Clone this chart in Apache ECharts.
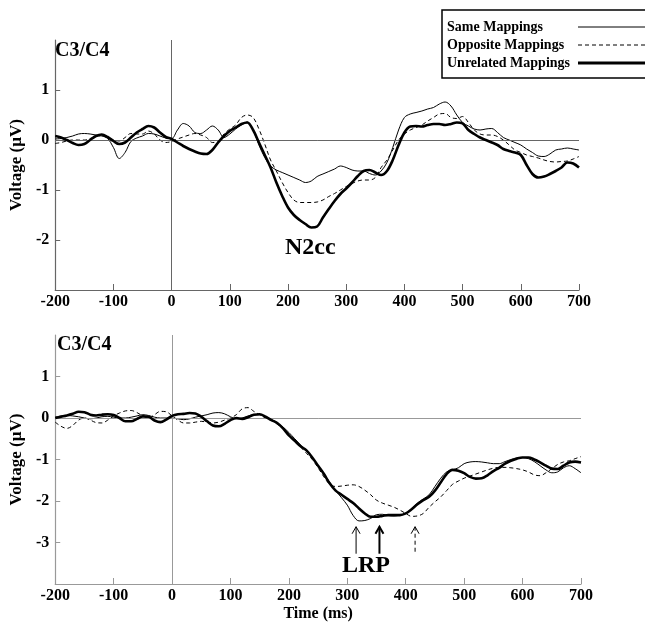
<!DOCTYPE html>
<html><head><meta charset="utf-8">
<script src="https://cdn.jsdelivr.net/npm/echarts@6/dist/echarts.min.js"></script>
<style>html,body{margin:0;padding:0;background:#fff;}#c{width:645px;height:623px;}</style>
</head><body><div id="c"></div>
<script>
// ---- data ----
const timeMs = [-200,-190,-180,-170,-160,-150,-140,-130,-120,-110,
  -100,-90,-80,-70,-60,-50,-40,-30,-20,-10,
  0,10,20,30,40,50,60,70,80,90,
  100,110,120,130,140,150,160,170,180,190,
  200,210,220,230,240,250,260,270,280,290,
  300,310,320,330,340,350,360,370,380,390,
  400,410,420,430,440,450,460,470,480,490,
  500,510,520,530,540,550,560,570,580,590,
  600,610,620,630,640,650,660,670,680,690,700];

const seriesNames = ['Same Mappings','Opposite Mappings','Unrelated Mappings'];

// Top panel (N2cc)
const topSame = [0.02,0.03,0.05,0.08,0.12,0.13,0.12,0.10,0.08,0.03,
  -0.15,-0.37,-0.25,-0.03,0.04,0.08,0.13,0.12,0.08,0.04,
  0.03,0.20,0.33,0.28,0.15,0.13,0.20,0.28,0.20,0.05,
  0.12,0.22,0.30,0.36,0.20,-0.10,-0.35,-0.52,-0.60,-0.65,
  -0.70,-0.75,-0.80,-0.85,-0.82,-0.73,-0.68,-0.63,-0.58,-0.52,
  -0.55,-0.60,-0.62,-0.62,-0.67,-0.70,-0.62,-0.45,-0.15,0.20,
  0.45,0.52,0.55,0.58,0.62,0.65,0.72,0.76,0.68,0.50,
  0.35,0.28,0.22,0.20,0.22,0.23,0.15,0.05,0.00,-0.05,
  -0.10,-0.18,-0.25,-0.32,-0.33,-0.28,-0.20,-0.18,-0.16,-0.18,-0.20];
const topOpp = [-0.07,-0.05,-0.02,0.00,0.00,0.00,0.03,0.07,0.08,0.05,
  0.00,-0.02,0.05,0.13,0.12,0.12,0.18,0.12,0.00,-0.05,
  -0.03,0.02,0.06,0.10,0.13,0.10,0.05,-0.05,-0.03,0.12,
  0.22,0.30,0.45,0.50,0.45,0.22,-0.08,-0.40,-0.62,-0.85,
  -1.05,-1.20,-1.25,-1.25,-1.25,-1.24,-1.20,-1.13,-1.07,-1.00,
  -0.93,-0.87,-0.82,-0.80,-0.80,-0.75,-0.55,-0.40,-0.20,0.00,
  0.12,0.20,0.25,0.30,0.38,0.45,0.52,0.53,0.45,0.43,
  0.47,0.35,0.20,0.12,0.10,0.10,0.07,0.00,-0.10,-0.20,
  -0.25,-0.30,-0.33,-0.36,-0.40,-0.43,-0.44,-0.43,-0.42,-0.38,-0.33];
const topUnr = [0.08,0.05,0.00,-0.06,-0.10,-0.08,0.00,0.08,0.11,0.06,
  -0.02,-0.08,-0.05,0.05,0.15,0.22,0.28,0.25,0.15,0.06,
  0.02,-0.05,-0.12,-0.18,-0.23,-0.27,-0.28,-0.20,-0.05,0.08,
  0.18,0.25,0.32,0.35,0.20,-0.05,-0.30,-0.55,-0.85,-1.12,
  -1.35,-1.50,-1.60,-1.68,-1.75,-1.73,-1.55,-1.38,-1.22,-1.08,
  -0.97,-0.85,-0.72,-0.62,-0.60,-0.65,-0.70,-0.62,-0.40,-0.10,
  0.15,0.27,0.28,0.27,0.30,0.32,0.32,0.30,0.32,0.35,
  0.33,0.20,0.12,0.05,0.00,-0.05,-0.10,-0.18,-0.22,-0.25,
  -0.30,-0.50,-0.68,-0.75,-0.73,-0.68,-0.62,-0.55,-0.45,-0.47,-0.55];

// Bottom panel (LRP)
const botSame = [0.02,0.05,0.06,0.05,0.03,0.00,-0.02,0.00,0.03,0.04,
  0.02,0.00,0.00,0.02,0.05,0.08,0.06,0.02,0.00,0.00,
  0.00,-0.02,-0.04,-0.02,0.02,0.05,0.08,0.12,0.13,0.10,
  0.03,-0.02,0.00,0.05,0.08,0.08,0.03,-0.03,-0.12,-0.22,
  -0.35,-0.50,-0.65,-0.80,-0.95,-1.15,-1.35,-1.55,-1.75,-1.92,
  -2.10,-2.35,-2.48,-2.47,-2.42,-2.33,-2.32,-2.35,-2.36,-2.34,
  -2.30,-2.18,-2.05,-1.95,-1.85,-1.65,-1.45,-1.30,-1.25,-1.20,
  -1.10,-1.06,-1.05,-1.06,-1.08,-1.10,-1.10,-1.05,-1.00,-0.96,
  -0.95,-0.98,-1.05,-1.15,-1.25,-1.32,-1.30,-1.20,-1.15,-1.22,-1.32];
const botOpp = [-0.10,-0.20,-0.25,-0.18,-0.05,0.00,-0.05,-0.11,-0.12,-0.05,
  0.05,0.12,0.17,0.18,0.13,0.05,0.00,0.08,0.16,0.15,
  0.05,-0.05,-0.12,-0.12,-0.10,-0.08,-0.10,-0.12,-0.10,-0.05,
  0.00,0.08,0.22,0.25,0.16,0.08,0.00,-0.05,-0.15,-0.25,
  -0.40,-0.55,-0.70,-0.85,-1.00,-1.20,-1.42,-1.60,-1.65,-1.64,
  -1.62,-1.61,-1.65,-1.74,-1.85,-1.98,-2.05,-2.10,-2.15,-2.22,
  -2.30,-2.37,-2.36,-2.30,-2.15,-2.02,-1.90,-1.75,-1.60,-1.52,
  -1.45,-1.40,-1.35,-1.30,-1.25,-1.21,-1.19,-1.19,-1.20,-1.22,
  -1.25,-1.30,-1.37,-1.39,-1.32,-1.22,-1.12,-1.06,-1.03,-0.98,-0.93];
const botUnr = [0.00,0.03,0.06,0.10,0.15,0.14,0.08,0.06,0.08,0.09,
  0.07,0.00,-0.08,-0.08,-0.02,0.04,0.03,-0.06,-0.10,-0.04,
  0.05,0.09,0.10,0.12,0.11,0.03,-0.08,-0.18,-0.20,-0.14,
  -0.05,0.00,-0.02,0.02,0.08,0.09,0.03,-0.05,-0.12,-0.25,
  -0.42,-0.55,-0.68,-0.78,-0.95,-1.15,-1.35,-1.58,-1.75,-1.85,
  -1.95,-2.05,-2.18,-2.30,-2.38,-2.38,-2.36,-2.34,-2.34,-2.34,
  -2.30,-2.20,-2.08,-1.98,-1.90,-1.75,-1.55,-1.35,-1.25,-1.27,
  -1.33,-1.42,-1.46,-1.45,-1.38,-1.28,-1.20,-1.10,-1.03,-0.98,
  -0.95,-0.95,-1.00,-1.07,-1.15,-1.22,-1.23,-1.15,-1.07,-1.05,-1.07];

const panelLabel = 'C3/C4';
const topPeakLabel = 'N2cc';
const botPeakLabel = 'LRP';
const lrpArrowTimes = [315, 355, 416];   // Same, Unrelated, Opposite onset markers (ms)
const lrpArrowTipV = -2.62;
const lrpArrowBaseV = -3.27;

// ---- chart ----
const FONT = "'Liberation Serif','Times New Roman',serif";
const chart = echarts.init(document.getElementById('c'), null, {renderer: 'canvas'});

function pairs(vals) { return timeMs.map((t, i) => [t, vals[i]]); }
const styles = [
  {width: 1, type: 'solid'},
  {width: 1, type: [4, 3]},
  {width: 2.6, type: 'solid'}
];

function xAx(gi, axisColor, named) {
  return {
    type: 'value', gridIndex: gi, min: -200, max: 700, interval: 100,
    axisLine: {show: true, onZero: false, lineStyle: {color: axisColor, width: 1.2}},
    axisTick: {show: true, inside: true, length: 6, lineStyle: {color: axisColor}},
    axisLabel: {color: '#000', fontFamily: FONT, fontWeight: 'bold', fontSize: 16, margin: 4},
    splitLine: {show: false},
    name: named ? 'Time (ms)' : '', nameLocation: 'middle', nameGap: 22,
    nameTextStyle: {color: '#000', fontFamily: FONT, fontWeight: 'bold', fontSize: 16}
  };
}
function yAx(gi, min, axisColor) {
  return {
    type: 'value', gridIndex: gi, min: min, max: 2, interval: 1,
    axisLine: {show: true, onZero: false, lineStyle: {color: axisColor, width: 1.2}},
    axisTick: {show: true, inside: true, length: 5, lineStyle: {color: axisColor}},
    axisLabel: {color: '#000', fontFamily: FONT, fontWeight: 'bold', fontSize: 16, margin: 6,
      showMinLabel: false, showMaxLabel: false},
    splitLine: {show: false},
    name: 'Voltage (\u00B5V)', nameLocation: 'middle', nameGap: 27,
    nameTextStyle: {color: '#000', fontFamily: FONT, fontWeight: 'bold', fontSize: 17}
  };
}

function mkSeries(gi, vals, k, zeroColor) {
  const s = {
    name: seriesNames[k], type: 'line', xAxisIndex: gi, yAxisIndex: gi,
    data: pairs(vals), smooth: 0.35, symbol: 'none', showSymbol: false,
    lineStyle: {color: '#000', width: styles[k].width, type: styles[k].type},
    itemStyle: {color: '#000'}, silent: true, z: 3 + k
  };
  if (k === 0) {
    s.markLine = {
      silent: true, symbol: ['none', 'none'], label: {show: false},
      lineStyle: {color: zeroColor, width: 1, type: 'solid'},
      data: [{yAxis: 0}, {xAxis: 0}]
    };
  }
  return s;
}

const option = {
  animation: false,
  backgroundColor: '#fff',
  grid: [
    {left: 47, top: 40, width: 532, height: 250},
    {left: 48, top: 335, width: 533, height: 251}
  ],
  xAxis: [xAx(0, '#666', false), xAx(1, '#999', true)],
  yAxis: [yAx(0, -3, '#666'), yAx(1, -4, '#999')],
  legend: {
    data: seriesNames.map((n, k) => ({name: n, lineStyle: {width: k === 2 ? 3 : 1}})),
    left: 442, top: 10, orient: 'vertical', align: 'right',
    itemWidth: 90, itemHeight: 14, itemGap: 4,
    itemStyle: {opacity: 0},
    borderColor: '#000', borderWidth: 1.5, padding: [10, 6, 8, 5],
    selectedMode: false,
    formatter: n => '{t|' + n + '}',
    textStyle: {color: '#000', fontFamily: FONT, fontWeight: 'bold', fontSize: 14,
      rich: {t: {width: 126, align: 'left', fontFamily: FONT, fontWeight: 'bold', fontSize: 14, color: '#000'}}}
  },
  series: [
    mkSeries(0, topSame, 0, '#666'), mkSeries(0, topOpp, 1), mkSeries(0, topUnr, 2),
    mkSeries(1, botSame, 0, '#999'), mkSeries(1, botOpp, 1), mkSeries(1, botUnr, 2)
  ],
  graphic: [
    {type: 'text', left: 55, top: 41, style: {text: panelLabel, font: 'bold 20px ' + FONT, fill: '#000'}},
    {type: 'text', left: 57, top: 335, style: {text: panelLabel, font: 'bold 20px ' + FONT, fill: '#000'}},
    {type: 'text', left: 285, top: 236, style: {text: topPeakLabel, font: 'bold 24px ' + FONT, fill: '#000'}},
    {type: 'text', left: 342, top: 554, style: {text: botPeakLabel, font: 'bold 24px ' + FONT, fill: '#000'}}
  ]
};
chart.setOption(option);

// LRP onset arrows (positioned through the bottom panel's axes)
const arrowStyles = [
  {lineWidth: 1, lineDash: null},
  {lineWidth: 2, lineDash: null},
  {lineWidth: 1, lineDash: [4, 3]}
];
const extra = [];
lrpArrowTimes.forEach((t, i) => {
  const tip = chart.convertToPixel({xAxisIndex: 1, yAxisIndex: 1}, [t, lrpArrowTipV]);
  const base = chart.convertToPixel({xAxisIndex: 1, yAxisIndex: 1}, [t, lrpArrowBaseV]);
  const st = arrowStyles[i];
  extra.push({type: 'line', shape: {x1: tip[0], y1: tip[1], x2: base[0], y2: base[1]},
    style: {stroke: '#000', lineWidth: st.lineWidth, lineDash: st.lineDash}});
  extra.push({type: 'polyline', shape: {points: [[tip[0] - 4, tip[1] + 7], [tip[0], tip[1]], [tip[0] + 4, tip[1] + 7]]},
    style: {stroke: '#000', fill: null, lineWidth: st.lineWidth}});
});
chart.setOption({graphic: option.graphic.concat(extra)});
</script></body></html>
